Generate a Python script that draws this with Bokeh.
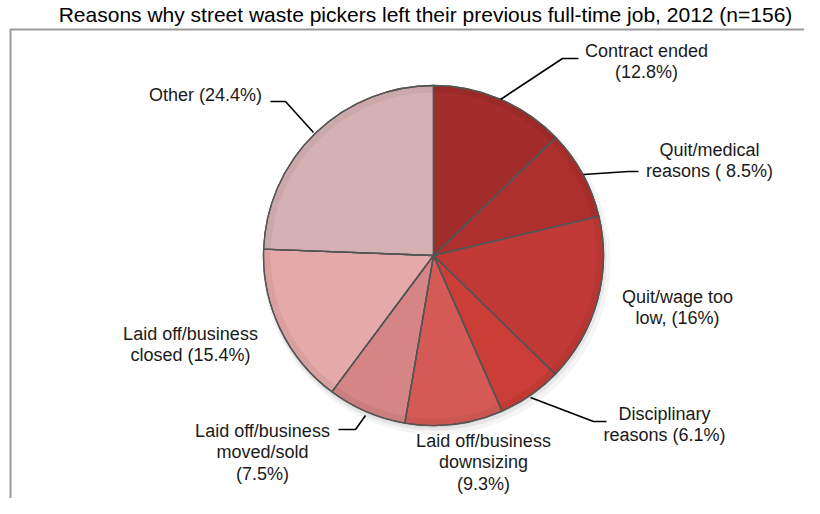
import math
from bokeh.plotting import figure
from bokeh.models import Range1d, ColumnDataSource
from bokeh.core.properties import value
from bokeh.embed import file_html
from bokeh.resources import INLINE

# ---------------- data ----------------
title_text = "Reasons why street waste pickers left their previous full-time job, 2012 (n=156)"
categories = ["Contract ended", "Quit/medical reasons", "Quit/wage too low",
              "Disciplinary reasons", "Laid off/business downsizing",
              "Laid off/business moved/sold", "Laid off/business closed", "Other"]
shares = [12.8, 8.5, 16.0, 6.1, 9.3, 7.5, 15.4, 24.4]
label_texts = ["Contract ended\n(12.8%)",
               "Quit/medical\nreasons ( 8.5%)",
               "Quit/wage too\nlow, (16%)",
               "Disciplinary\nreasons (6.1%)",
               "Laid off/business\ndownsizing\n(9.3%)",
               "Laid off/business\nmoved/sold\n(7.5%)",
               "Laid off/business\nclosed (15.4%)",
               "Other (24.4%)"]

# ---------------- styles / layout ----------------
colors = ["#A22D2A", "#AE302E", "#C13936", "#CB3D37",
          "#D55A56", "#D58585", "#E6A9A9", "#D6B1B3"]
W, H = 804, 498
PY = 514  # data y = PY - picture y ; data x = picture x
cx, cy, R = 433, PY - 255, 170

# label anchor: (center x, first line center y) in picture coordinates
label_pos = [(646, 50), (709, 149), (677, 296), (664, 413),
             (483, 440), (262, 430), (190, 333), (205, 94)]
LINE_H = 21.5
# leader lines in picture coordinates
leaders = [
    [(500, 99), (562, 58), (578, 58)],
    [(583, 174), (628, 171), (638, 171)],
    None,
    [(530, 397), (593, 421), (606, 421)],
    None,
    [(365, 415), (355, 429), (338, 429)],
    None,
    [(270, 101), (285, 101), (313, 132)],
]

p = figure(width=W, height=H, x_range=Range1d(0, W), y_range=Range1d(PY - H, PY),
           output_backend="svg", toolbar_location=None,
           x_axis_location=None, y_axis_location=None, min_border=0)
p.grid.visible = False
p.outline_line_color = None
p.background_fill_color = "white"
p.border_fill_color = "white"

# frame (left and top edges visible)
p.line([10, 10, 820], [PY - 514, PY - 29, PY - 29], line_color="#9a9a9a", line_width=2)

# title
p.text(x=[425], y=[PY - 14], text=[title_text], text_font=value("Liberation Sans"),
       text_font_size="21px", text_align="center", text_baseline="middle", text_color="black")

# soft shadow
for off, a, dr in [(5, 0.04, 4), (3, 0.06, 2), (2, 0.07, 0)]:
    p.circle(x=[cx + off - 2], y=[cy - off], radius=R + dr, fill_color="black",
             fill_alpha=a, line_color=None)

# wedges
total = sum(shares)
starts, ends = [], []
acc = 0.0
for s in shares:
    a0 = math.pi / 2 - 2 * math.pi * acc / total
    acc += s
    a1 = math.pi / 2 - 2 * math.pi * acc / total
    starts.append(a1)
    ends.append(a0)
src = ColumnDataSource(dict(start=starts, end=ends, color=colors, cat=categories, share=shares))
p.wedge(x=cx, y=cy, radius=R, start_angle="start", end_angle="end", fill_color="color",
        line_color="#555555", line_width=1.3, source=src)
# rim shading
p.annular_wedge(x=cx, y=cy, inner_radius=R - 7, outer_radius=R, start_angle="start",
                end_angle="end", fill_color="black", fill_alpha=0.05, line_color=None, source=src)
p.wedge(x=cx, y=cy, radius=R, start_angle="start", end_angle="end", fill_color=None,
        line_color="#555555", line_width=1.3, source=src)

# leaders
for ld in leaders:
    if ld is None:
        continue
    p.line([q[0] for q in ld], [PY - q[1] for q in ld], line_color="black", line_width=1.6)

# labels
lx, ly, lt = [], [], []
for txt, (ax, ay) in zip(label_texts, label_pos):
    for i, line in enumerate(txt.split("\n")):
        lx.append(ax)
        ly.append(PY - (ay + i * LINE_H))
        lt.append(line)
p.text(x=lx, y=ly, text=lt, text_font=value("Liberation Sans"), text_font_size="18px",
       text_align="center", text_baseline="middle", text_color="#1a1a1a")

open("out.html", "w").write(file_html(p, INLINE))
